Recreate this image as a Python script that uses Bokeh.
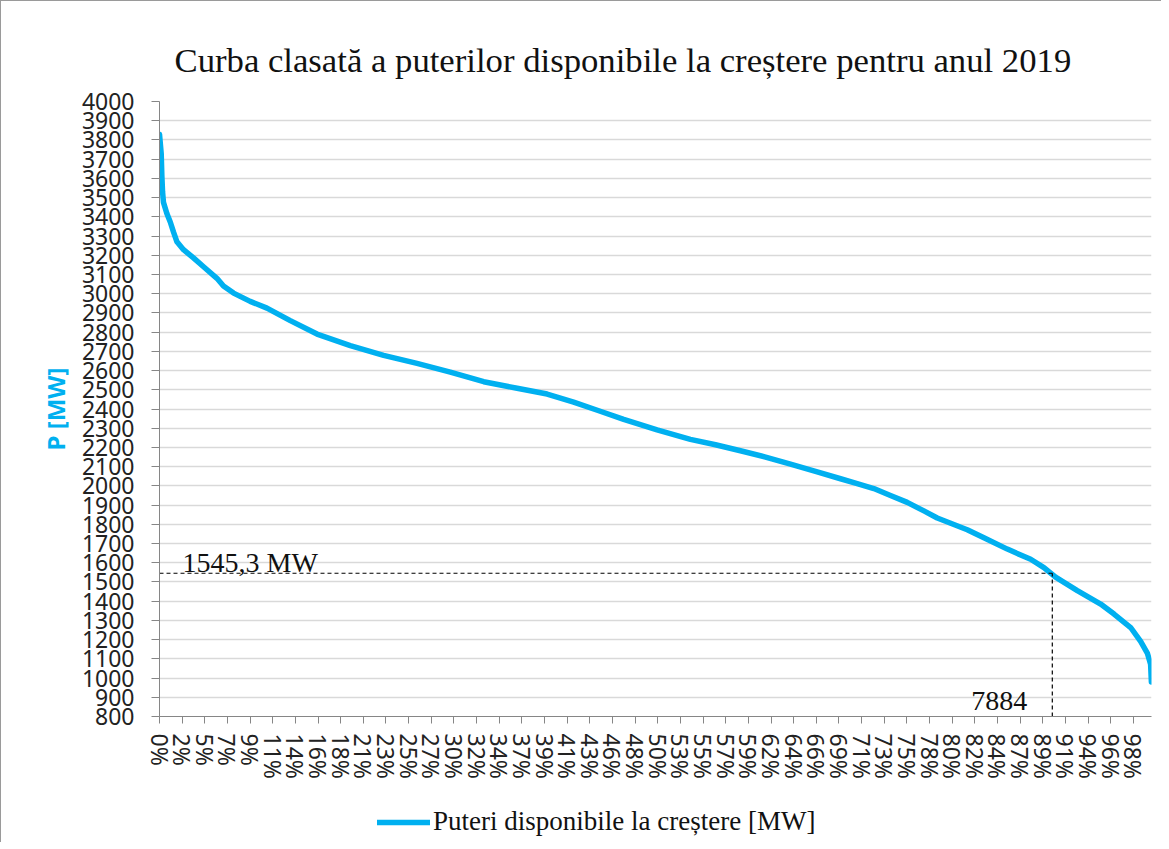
from bokeh.plotting import figure
from bokeh.layouts import column
from bokeh.models import Range1d, FixedTicker, Legend, LegendItem, Label
from bokeh.embed import file_html
from bokeh.resources import INLINE

# ---- data (hour rank, available power in MW) ----
hours = [0, 15, 21, 27, 35, 65, 95, 124, 154, 212, 300, 389, 507, 565, 654,
         801, 949, 1155, 1391, 1685, 1979, 2274, 2568, 2863, 3158, 3423, 3511,
         3657, 3879, 4099, 4394, 4688, 4910, 5130, 5352, 5572, 5793, 6014,
         6161, 6308, 6455, 6603, 6750, 6868, 7133, 7280, 7487, 7693, 7810,
         7913, 8105, 8311, 8429, 8576, 8664, 8723, 8752, 8759]
power_mw = [3830, 3730, 3610, 3530, 3475, 3417, 3373, 3320, 3270, 3229, 3186,
            3140, 3080, 3040, 3003, 2960, 2925, 2860, 2790, 2730, 2679, 2637,
            2592, 2542, 2508, 2478, 2462, 2436, 2391, 2346, 2291, 2242, 2214,
            2183, 2150, 2113, 2075, 2037, 2012, 1986, 1950, 1914, 1870, 1833,
            1772, 1730, 1671, 1618, 1575, 1525, 1455, 1385, 1333, 1263, 1191,
            1130, 1072, 980]

x_tick_hours = [0, 200, 400, 600, 800, 1000, 1200, 1400, 1600, 1800, 2000,
                2200, 2400, 2600, 2800, 3000, 3200, 3400, 3600, 3800, 4000,
                4200, 4400, 4600, 4800, 5000, 5200, 5400, 5600, 5800, 6000,
                6200, 6400, 6600, 6800, 7000, 7200, 7400, 7600, 7800, 8000,
                8200, 8400, 8600]
x_tick_labels = ["0%", "2%", "5%", "7%", "9%", "11%", "14%", "16%", "18%",
                 "21%", "23%", "25%", "27%", "30%", "32%", "34%", "37%", "39%",
                 "41%", "43%", "46%", "48%", "50%", "53%", "55%", "57%", "59%",
                 "62%", "64%", "66%", "69%", "71%", "73%", "75%", "78%", "80%",
                 "82%", "84%", "87%", "89%", "91%", "94%", "96%", "98%"]
y_ticks = [800, 900, 1000, 1100, 1200, 1300, 1400, 1500, 1600, 1700, 1800,
           1900, 2000, 2100, 2200, 2300, 2400, 2500, 2600, 2700, 2800, 2900,
           3000, 3100, 3200, 3300, 3400, 3500, 3600, 3700, 3800, 3900, 4000]
total_hours = 8760
threshold_mw = 1545.3
threshold_hours = 7884

title_text = "Curba clasată a puterilor disponibile la creștere pentru anul 2019"
series_name = "Puteri disponibile la creștere [MW]"

LINE_COLOR = "#00B0F0"
SERIF = "Liberation Serif"
SANS = "Noto Sans"

p = figure(width=1160, height=795, output_backend="svg", toolbar_location=None,
           x_range=Range1d(0, total_hours), y_range=Range1d(y_ticks[0], y_ticks[-1]),
           min_border_left=158, min_border_right=10, min_border_top=100,
           min_border_bottom=80)
p.background_fill_color = "white"
p.border_fill_color = "white"
p.outline_line_color = None

p.title.text = title_text
p.title.text_font = SERIF
p.title.text_font_size = "34.7px"
p.title.text_font_style = "normal"
p.title.text_color = "#111111"
p.title.align = "left"
p.title.offset = 15
p.title.standoff = 44

# grid
p.xgrid.grid_line_color = None
p.ygrid.grid_line_color = "#D9D9D9"
p.ygrid.grid_line_width = 1.3

# y axis
p.yaxis.ticker = FixedTicker(ticks=y_ticks)
p.yaxis.axis_line_color = "#868686"
p.yaxis.major_tick_line_color = "#868686"
p.yaxis.major_tick_out = 8
p.yaxis.major_tick_in = 0
p.yaxis.minor_tick_line_color = None
p.yaxis.major_label_text_font = SANS
p.yaxis.major_label_text_font_size = "23px"
p.yaxis.major_label_text_color = "#222222"
p.yaxis.major_label_standoff = 17
p.yaxis.axis_label = "P [MW]"
p.yaxis.axis_label_text_font = SANS
p.yaxis.axis_label_text_font_style = "bold"
p.yaxis.axis_label_text_font_size = "24px"
p.yaxis.axis_label_text_color = LINE_COLOR
p.yaxis.axis_label_standoff = 7

# x axis
p.xaxis.ticker = FixedTicker(ticks=x_tick_hours)
p.xaxis.major_label_overrides = {h: lab for h, lab in zip(x_tick_hours, x_tick_labels)}
p.xaxis.major_label_orientation = "vertical"
p.xaxis.axis_line_color = "#868686"
p.xaxis.major_tick_line_color = "#868686"
p.xaxis.major_tick_out = 7
p.xaxis.major_tick_in = 0
p.xaxis.minor_tick_line_color = None
p.xaxis.major_label_text_font = SANS
p.xaxis.major_label_text_font_size = "23px"
p.xaxis.major_label_text_color = "#222222"
p.xaxis.major_label_standoff = 10

# curve
r = p.line(hours, power_mw, line_width=5.5, line_color=LINE_COLOR,
           line_join="round", line_cap="round")

# dashed guide lines
p.segment(x0=[0, threshold_hours], y0=[threshold_mw, y_ticks[0]],
          x1=[threshold_hours, threshold_hours], y1=[threshold_mw, threshold_mw],
          line_color="black", line_width=1.2, line_dash="4 3")

p.add_layout(Label(x=0, y=threshold_mw, x_offset=23, y_offset=11,
                   text=f"{threshold_mw}".replace(".", ",") + " MW",
                   text_font=SERIF, text_font_size="28px", text_color="#111111",
                   text_baseline="alphabetic"))
p.add_layout(Label(x=threshold_hours, y=y_ticks[0], x_offset=-25, y_offset=16,
                   text=f"{threshold_hours}", text_align="right",
                   text_font=SERIF, text_font_size="28px", text_color="#111111",
                   text_baseline="alphabetic"))

# legend strip below the chart (its line is outside the strip's range, only the swatch shows)
lf = figure(width=1160, height=46, output_backend="svg", toolbar_location=None,
            x_range=Range1d(0, 1), y_range=Range1d(0, 1), min_border=0,
            x_axis_location=None, y_axis_location=None)
lf.grid.visible = False
lf.outline_line_color = None
lf.background_fill_color = "white"
lf.border_fill_color = "white"
swatch = lf.line(hours, power_mw, line_width=5.5, line_color=LINE_COLOR, line_cap="round")
legend = Legend(items=[LegendItem(label=series_name, renderers=[swatch])],
                location=(218, 5), orientation="horizontal",
                border_line_color=None, background_fill_alpha=0,
                padding=0, margin=0, glyph_width=53, glyph_height=24,
                label_standoff=3, label_text_font=SERIF,
                label_text_font_size="27px", label_text_color="#111111")
lf.add_layout(legend)

layout = column(p, lf, spacing=0,
                styles={"border-left": "1px solid #9a9a9a", "border-top": "1px solid #9a9a9a"})

open("out.html", "w").write(file_html(layout, INLINE))
